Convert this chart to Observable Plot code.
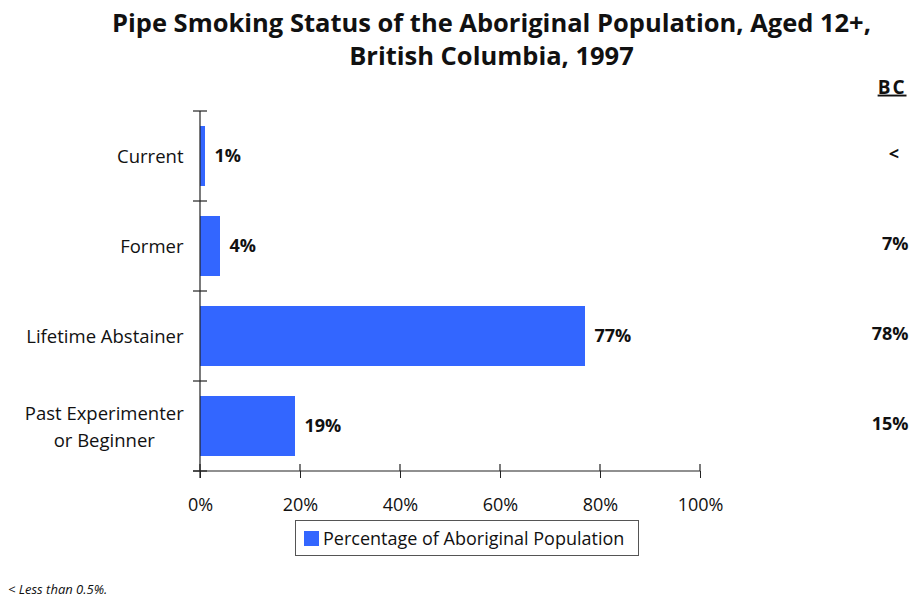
<!DOCTYPE html>
<html><head><meta charset="utf-8">
<script src="https://cdn.jsdelivr.net/npm/d3@7"></script>
<script src="https://cdn.jsdelivr.net/npm/@observablehq/plot@0.6"></script>
<style>
body{margin:0;background:#fff;font-family:"Open Sans",sans-serif;color:#111}
#wrap{position:relative;width:911px;height:598px;overflow:hidden}
#title{position:absolute;left:72px;width:839px;top:6px;text-align:center;font-weight:bold;font-size:25.5px;line-height:33px}
#chart{position:absolute;left:0;top:75px}
#legend{position:absolute;left:295px;top:520px;width:344px;height:36px;border:1px solid #555;box-sizing:border-box;display:flex;align-items:center;font-size:18px;white-space:nowrap}
#legend .sw{display:inline-block;width:15px;height:15px;background:#3366ff;margin:0 4px 0 8px}
#foot{position:absolute;left:8px;top:580px;font-size:13px;font-style:italic}
</style></head>
<body>
<div id="wrap">
  <div id="title">Pipe Smoking Status of the Aboriginal Population, Aged 12+,<br>British Columbia, 1997</div>
  <div id="chart"></div>
  <div id="legend"><span class="sw"></span><span>Percentage of Aboriginal Population</span></div>
  <div id="foot">&lt; Less than 0.5%.</div>
</div>
<script>
const categories = ["Current", "Former", "Lifetime Abstainer", "Past Experimenter\nor Beginner"];
const aboriginal = [1, 4, 77, 19];
const bcLabels = ["<\u00a0\u00a0", "7%", "78%", "15%"];
const bcHeader = ["BC"];
const xTicks = [0, 20, 40, 60, 80, 100];

const data = categories.map((c, i) => ({category: c, value: aboriginal[i], bc: bcLabels[i]}));

const W = 911, H = 445, mt = 36, mb = 49, ml = 200, mr = 211;
const plot = Plot.plot({
  width: W, height: H, marginTop: mt, marginBottom: mb, marginLeft: ml, marginRight: mr,
  style: {fontFamily: "Open Sans, sans-serif", fontSize: "18px", color: "#111", overflow: "visible", background: "transparent"},
  x: {domain: [0, 100], label: null},
  y: {domain: categories, paddingInner: 1/3, paddingOuter: 1/6, label: null},
  marks: [
    Plot.barX(data, {x: "value", y: "category", fill: "#3366ff"}),
    Plot.text(data, {x: "value", y: "category", text: d => d.value + "%", textAnchor: "start", dx: 9, fontWeight: "bold", fill: "#111"}),
    Plot.text(data, {y: "category", text: "bc", frameAnchor: "right", textAnchor: "end", dx: 208, dy: -2, fontWeight: "bold", fill: "#111"}),
    Plot.text(bcHeader, {text: d => d, frameAnchor: "top-right", lineAnchor: "middle", textAnchor: "end", dx: 206, dy: -24, fontWeight: "bold", fontSize: 19, fill: "#111"}),
    Plot.axisX({ticks: xTicks, tickFormat: d => d + "%", tickSize: 7, tickPadding: 20, stroke: "#222", label: null}),
    Plot.axisY({tickSize: 0, tickPadding: 17, dy: -2, fontSize: 18.5, lineHeight: 1.5, label: null})
  ]
});
document.getElementById("chart").appendChild(plot);

// axis lines and boundary ticks from the library's scales
const xs = plot.scale("x"), ys = plot.scale("y");
const X = v => xs.apply(v);
const svg = d3.select(plot);
const frameTop = mt, frameBot = H - mb;
const g = svg.append("g").attr("stroke", "#222").attr("stroke-width", 1.2);
g.append("line").attr("x1", X(0) - 7).attr("x2", X(100)).attr("y1", frameBot).attr("y2", frameBot);
g.append("line").attr("x1", X(0)).attr("x2", X(0)).attr("y1", frameTop).attr("y2", frameBot + 7);
xTicks.forEach(t => g.append("line").attr("x1", X(t)).attr("x2", X(t)).attr("y1", frameBot - 7).attr("y2", frameBot));
const gap = (ys.step - ys.bandwidth) / 2;
const bounds = categories.map(c => ys.apply(c) - gap);
bounds.push(ys.apply(categories[categories.length - 1]) + ys.bandwidth + gap);
bounds.forEach(b => g.append("line").attr("x1", X(0) - 7).attr("x2", X(0) + 7).attr("y1", b).attr("y2", b));

// underline header, slightly tracked like the original
svg.selectAll("text").filter(function() { return this.textContent === "BC"; })
  .style("text-decoration", "underline").style("letter-spacing", "2px");

// center multi-line category label as a block
svg.selectAll("text").each(function() {
  const ts = this.querySelectorAll("tspan");
  if (ts.length > 1) {
    const bb = this.getBBox();
    this.setAttribute("text-anchor", "middle");
    ts.forEach(t => t.setAttribute("x", bb.x + bb.width / 2));
  }
});
</script>
</body></html>
